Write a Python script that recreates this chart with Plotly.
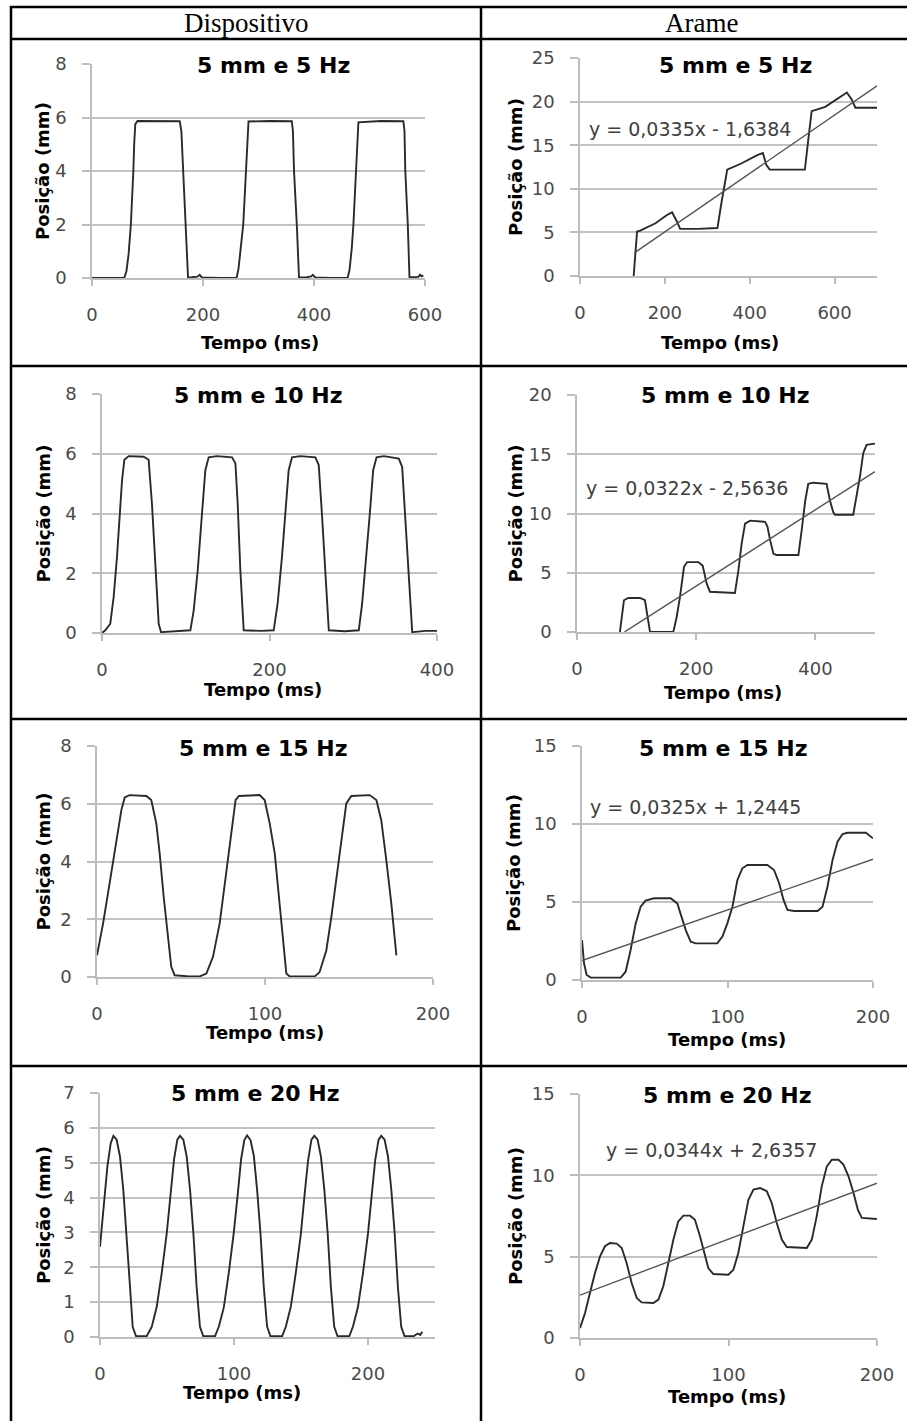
import plotly.graph_objects as go

# ---------------- data (time in ms, position in mm) ----------------
disp_5hz = [(0,0),(58,0),(62,0.25),(66,0.9),(70,2.0),(72.5,3.0),(74.5,4.0),(76,5.0),(78,5.75),(82,5.87),(120,5.87),
            (158,5.86),(161,5.5),(164,4.0),(169,2.0),(173,0.02),(180,0.03),(190,0.05),(194,0.12),(198,0.02),(230,0),
            (260.5,0),(264,0.35),(268,1.1),(272.5,2.0),(275,3.0),(277.5,4.0),(280,5.3),(282,5.85),(320,5.87),
            (360,5.86),(362,5.5),(364,4.0),(369,2.0),(373,0.02),(385,0.02),(395,0.06),(398,0.12),(402,0.02),(430,0),
            (460.5,0),(464,0.3),(468,1.1),(471,2.0),(473.5,3.0),(475.5,4.0),(478,5.2),(480,5.82),(520,5.87),
            (561,5.86),(563,5.5),(564.5,4.0),(569,2.0),(572,0.03),(580,0.03),(588,0.04),(591,0.12),(594,0.06),(597,0.1)]

arame_5hz = [(126.5,0),(130.5,2.6),(134.5,5.1),(142,5.2),(178,6.05),(205,7.0),(217,7.3),(229,6.2),(236,5.4),(277,5.4),
             (324,5.5),(332,8.0),(340,10.3),(347,12.2),(380,12.9),(419,13.9),(431,14.1),(439,12.75),(447,12.2),(490,12.2),
             (530,12.2),(538,15.6),(546,18.9),(578,19.4),(609,20.4),(629,21.05),(641,20.2),(649,19.3),(700,19.3)]

disp_10hz = [(0,0),(3.9,0.09),(9.9,0.31),(13.9,1.2),(17.9,2.55),(21.1,3.9),(23.9,5.1),(26.7,5.8),(31.9,5.92),(49.8,5.9),
             (55.7,5.8),(59.7,4.3),(63.7,2.1),(67.7,0.31),(70.5,0.03),(88,0.06),(105.5,0.09),(109.5,0.76),(114.3,2.1),
             (119.4,4.0),(123.4,5.45),(127.4,5.88),(137.4,5.92),(155.3,5.88),(159.3,5.68),(162,4.33),(165.2,2.1),
             (169.2,0.09),(190,0.07),(205,0.09),(209.7,0.98),(214.9,2.55),(218.9,4.0),(222.9,5.45),(226.9,5.88),
             (236.9,5.92),(254.8,5.88),(258.8,5.62),(262.8,3.89),(266.8,1.88),(270.8,0.09),(290,0.06),(306.6,0.09),
             (310.6,0.98),(315.8,2.55),(319.8,4.0),(323.8,5.45),(327.8,5.88),(336.5,5.92),(354.4,5.84),(358.4,5.56),
             (362.4,3.89),(366.4,1.88),(370.4,0.03),(386.4,0.07),(400,0.07)]

arame_10hz = [(72,0),(75,1.27),(78.8,2.68),(86,2.87),(105.7,2.87),(114,2.68),(118.6,1.27),(122.5,0),(161.6,0),(167,1.2),
              (172.8,2.96),(179.5,5.5),(185,5.9),(203.5,5.9),(210.8,5.6),(217.5,4.1),(223,3.4),(265,3.3),(270.8,5.2),
              (276.4,7.5),(282,9.15),(290.4,9.4),(315.6,9.3),(319.5,8.9),(324,7.75),(329.6,6.6),(335,6.5),(371.5,6.5),
              (377,8.6),(383,11.1),(388,12.5),(396.5,12.6),(418.8,12.5),(424.4,11.1),(430,10.1),(433,9.9),(463.5,9.9),
              (469,11.4),(474.7,13.1),(480.3,15.1),(485.9,15.8),(500,15.9)]

disp_15hz = [(0,0.75),(3.6,1.85),(7.5,3.24),(11.5,4.62),(14.5,5.78),(16.5,6.22),(19.4,6.3),(29.4,6.27),(32.3,6.13),
             (35.3,5.32),(37.3,4.28),(39.7,2.77),(42.3,1.39),(44.2,0.35),(46.2,0.06),(55,0.02),(61.1,0.02),(65.1,0.12),
             (69,0.69),(73,1.85),(76.6,3.47),(80,4.97),(82.5,6.13),(84.5,6.27),(96.8,6.3),(99.8,6.13),(102.8,5.32),
             (105.8,4.28),(108.3,2.77),(110.7,1.27),(112.7,0.12),(114.7,0.02),(129.6,0.02),(132.5,0.17),(136.5,0.92),
             (139.5,2.08),(142.5,3.47),(145.4,4.62),(148.4,6.01),(151.4,6.27),(162.3,6.3),(166.3,6.13),(169.2,5.43),
             (172.2,4.05),(175.2,2.54),(178.2,0.75)]

arame_15hz = [(0,2.56),(1.4,1.07),(3.2,0.32),(6,0.15),(26.6,0.15),(30,0.53),(33.4,1.92),(36.9,3.63),(40.3,4.7),
              (43.7,5.09),(49.5,5.24),(60.9,5.24),(65.5,4.91),(67.8,4.27),(71.3,3.2),(74.7,2.46),(78.2,2.35),(93,2.35),
              (96.5,2.78),(99.9,3.63),(103.4,4.7),(106.8,6.41),(110.2,7.16),(113.7,7.37),(127.4,7.37),(132,7.05),
              (135.5,6.2),(138.5,5.13),(141.2,4.49),(145.8,4.42),(161.9,4.42),(165.3,4.7),(168.7,5.98),(172.2,7.69),
              (175.6,8.87),(179.1,9.36),(182.5,9.44),(195.1,9.44),(200,9.08)]

disp_20hz = [(0,2.59),(3,3.93),(5.5,4.89),(8,5.56),(10,5.77),(12.4,5.66),(14.9,5.18),(17.4,4.22),(19.9,2.97),(22.4,1.44),
             (24.4,0.29),(26.9,0.02),(34.8,0.02),(38.6,0.29),(42.3,0.86),(46,1.82),(49.8,2.97),(52.7,4.12),(55.2,5.08),
             (57.7,5.66),(59.7,5.77),(62.2,5.66),(64.7,5.18),(67.2,4.22),(69.7,2.97),(72.1,1.44),(74.6,0.29),(77.1,0.02),
             (85.8,0.02),(88.7,0.3),(92.4,0.85),(96.1,1.84),(99.8,2.98),(102.8,4.1),(105.3,5.1),(107.7,5.65),(109.8,5.78),
             (112.3,5.65),(114.8,5.2),(117.3,4.2),(119.8,2.95),(122.2,1.45),(124.7,0.3),(127.2,0.02),(135.9,0.02),
             (138.7,0.3),(142.4,0.87),(146.1,1.83),(149.9,2.96),(152.8,4.13),(155.3,5.07),(157.8,5.66),(159.9,5.77),
             (162.4,5.66),(164.9,5.17),(167.4,4.23),(169.9,2.98),(172.3,1.43),(174.8,0.29),(177.3,0.02),(186,0.02),
             (188.8,0.3),(192.5,0.86),(196.2,1.82),(200,2.97),(202.9,4.12),(205.4,5.08),(207.9,5.66),(209.9,5.77),
             (212.4,5.66),(214.9,5.18),(217.4,4.22),(219.9,2.97),(222.3,1.44),(224.8,0.29),(227.3,0.02),(234,0.02),
             (237,0.1),(239,0.06),(240.5,0.15)]

arame_20hz = [(0,0.61),(3.4,1.54),(6.7,2.77),(10.1,4.0),(13.5,5.02),(16.8,5.64),(20.2,5.84),(24.7,5.8),(28.1,5.53),
              (31.4,4.61),(34.8,3.38),(38.2,2.46),(41.5,2.19),(49.4,2.15),(52.8,2.36),(56.1,3.18),(59.5,4.61),(62.9,6.05),
              (66.2,7.17),(69.6,7.52),(74.1,7.52),(77.4,7.27),(80.8,6.25),(83.5,5.23),(86.4,4.3),(89.8,3.93),(99.9,3.89),
              (103.3,4.2),(106.6,5.23),(110,6.86),(113.4,8.5),(116.8,9.12),(121.3,9.22),(125.8,9.02),(129.1,8.3),
              (132.5,7.07),(135.9,6.05),(139.2,5.59),(152.7,5.53),(156.1,6.05),(159.4,7.48),(162.8,9.32),(166.2,10.55),
              (169.6,10.96),(174.1,10.96),(177.4,10.66),(180.8,9.94),(184.2,8.91),(187.1,7.89),(189.8,7.38),(199.9,7.32)]

# linear trend lines (slope, intercept, x start, x end) as printed on the charts
trend_5hz = (0.0335, -1.6384, 128, 700)
trend_10hz = (0.0322, -2.5636, 80, 500)
trend_15hz = (0.0325, 1.2445, 0, 200)
trend_20hz = (0.0344, 2.6357, 0, 200)

titles = ["5 mm e 5 Hz", "5 mm e 10 Hz", "5 mm e 15 Hz", "5 mm e 20 Hz"]
equations = ["y = 0,0335x - 1,6384", "y = 0,0322x - 2,5636", "y = 0,0325x + 1,2445", "y = 0,0344x + 2,6357"]
col_headers = ["Dispositivo", "Arame"]
x_label = "Tempo (ms)"
y_label = "Posição (mm)"

# ---------------- layout helpers ----------------
W, H = 907, 1421
def fx(x):
    return x / W
def fy(y):
    return 1 - y / H

# panel geometry in pixels: plot box (x0, y0, x1, y1), title pos, x-title pos, y-title x, eq pos
panels = [
    dict(data=disp_5hz, trend=None, xr=[0, 600], xd=200, yr=[0, 8], yd=2, box=(92, 64, 425, 278),
         title=(273, 65), xt=(260, 342), yt=42, eq=None, ti=0),
    dict(data=arame_5hz, trend=trend_5hz, xr=[0, 700], xd=200, yr=[0, 25], yd=5, box=(580, 58, 877, 276),
         title=(735, 65), xt=(720, 342), yt=515, eq=(690, 129), ti=0),
    dict(data=disp_10hz, trend=None, xr=[0, 400], xd=200, yr=[0, 8], yd=2, box=(102, 394, 437, 633),
         title=(258, 395), xt=(263, 689), yt=43, eq=None, ti=1),
    dict(data=arame_10hz, trend=trend_10hz, xr=[0, 500], xd=200, yr=[0, 20], yd=5, box=(577, 395, 875, 632),
         title=(725, 395), xt=(723, 692), yt=515, eq=(687, 488), ti=1),
    dict(data=disp_15hz, trend=None, xr=[0, 200], xd=100, yr=[0, 8], yd=2, box=(97, 746, 433, 977),
         title=(263, 748), xt=(265, 1032), yt=43, eq=None, ti=2),
    dict(data=arame_15hz, trend=trend_15hz, xr=[0, 200], xd=100, yr=[0, 15], yd=5, box=(582, 746, 873, 980),
         title=(723, 748), xt=(727, 1039), yt=513, eq=(695, 807), ti=2),
    dict(data=disp_20hz, trend=None, xr=[0, 250], xd=100, yr=[0, 7], yd=1, box=(100, 1093, 435, 1337),
         title=(255, 1093), xt=(242, 1392), yt=43, eq=None, ti=3),
    dict(data=arame_20hz, trend=trend_20hz, xr=[0, 200], xd=100, yr=[0, 15], yd=5, box=(580, 1094, 877, 1338),
         title=(727, 1095), xt=(727, 1396), yt=515, eq=(711, 1150), ti=3),
]

GRID = "#c3c3c3"
AXIS = "#bdbdbd"
TICKFONT = dict(family="DejaVu Sans", size=18, color="#4a4a4a")
DATA_COLOR = "#2a2a2a"
TREND_COLOR = "#555555"

fig = go.Figure()
layout = dict(width=W, height=H, margin=dict(l=0, r=0, t=0, b=0, autoexpand=False), showlegend=False,
              paper_bgcolor="white", plot_bgcolor="white")
annotations = []
shapes = []

for i, p in enumerate(panels, start=1):
    xa = "x" if i == 1 else f"x{i}"
    ya = "y" if i == 1 else f"y{i}"
    xs = [pt[0] for pt in p["data"]]
    ys = [pt[1] for pt in p["data"]]
    fig.add_trace(go.Scatter(x=xs, y=ys, mode="lines", xaxis=xa, yaxis=ya,
                             line=dict(color=DATA_COLOR, width=1.9), hoverinfo="skip"))
    if p["trend"] is not None:
        m, b, t0, t1 = p["trend"]
        fig.add_trace(go.Scatter(x=[t0, t1], y=[m * t0 + b, m * t1 + b], mode="lines", xaxis=xa, yaxis=ya,
                                 line=dict(color=TREND_COLOR, width=1.4), hoverinfo="skip"))
    x0, y0, x1, y1 = p["box"]
    layout[f"xaxis{i}"] = dict(domain=[fx(x0), fx(x1)], range=p["xr"], dtick=p["xd"], tick0=0, anchor=ya,
                               automargin=False,
                               showgrid=False, zeroline=False, showline=True, linecolor=AXIS, linewidth=1.5,
                               ticks="outside", ticklen=6, tickwidth=1.5, tickcolor=AXIS,
                               tickfont=TICKFONT, ticklabelstandoff=14, fixedrange=True)
    layout[f"yaxis{i}"] = dict(domain=[fy(y1), fy(y0)], range=p["yr"], dtick=p["yd"], tick0=0, anchor=xa,
                               automargin=False,
                               showgrid=True, gridcolor=GRID, gridwidth=1.6, zeroline=False,
                               showline=True, linecolor=AXIS, linewidth=1.5,
                               ticks="outside", ticklen=8, tickwidth=1.5, tickcolor=AXIS,
                               tickfont=TICKFONT, ticklabelstandoff=12, fixedrange=True)
    # chart title (white box over top gridline)
    annotations.append(dict(x=fx(p["title"][0]), y=fy(p["title"][1]), xref="paper", yref="paper",
                            text=f"<b>{titles[p['ti']]}</b>", showarrow=False, xanchor="center", yanchor="middle",
                            font=dict(family="DejaVu Sans", size=22, color="black"),
                            bgcolor="white", borderpad=3))
    # axis titles
    annotations.append(dict(x=fx(p["xt"][0]), y=fy(p["xt"][1]), xref="paper", yref="paper",
                            text=f"<b>{x_label}</b>", showarrow=False, xanchor="center", yanchor="middle",
                            font=dict(family="DejaVu Sans", size=18, color="black")))
    annotations.append(dict(x=fx(p["yt"]), y=fy((y0 + y1) / 2), xref="paper", yref="paper",
                            text=f"<b>{y_label}</b>", showarrow=False, xanchor="center", yanchor="middle",
                            textangle=-90, font=dict(family="DejaVu Sans", size=18, color="black")))
    if p["eq"] is not None:
        annotations.append(dict(x=fx(p["eq"][0]), y=fy(p["eq"][1]), xref="paper", yref="paper",
                                text=equations[p["ti"]], showarrow=False, xanchor="center", yanchor="middle",
                                font=dict(family="DejaVu Sans", size=19, color="#404040")))

# column headers
annotations.append(dict(x=fx(246), y=fy(23), xref="paper", yref="paper", text=col_headers[0], showarrow=False,
                        xanchor="center", yanchor="middle",
                        font=dict(family="Liberation Serif", size=27, color="black")))
annotations.append(dict(x=fx(701), y=fy(23), xref="paper", yref="paper", text=col_headers[1], showarrow=False,
                        xanchor="center", yanchor="middle",
                        font=dict(family="Liberation Serif", size=27, color="black")))

# table borders
border = dict(color="black", width=2.5)
for yy in [7, 39, 366, 719, 1066]:
    shapes.append(dict(type="line", xref="paper", yref="paper", x0=fx(10), x1=fx(W + 5), y0=fy(yy), y1=fy(yy),
                       line=border))
for xx in [11, 481]:
    shapes.append(dict(type="line", xref="paper", yref="paper", x0=fx(xx), x1=fx(xx), y0=fy(6), y1=fy(H + 5),
                       line=border))

layout["annotations"] = annotations
layout["shapes"] = shapes
fig.update_layout(**layout)
fig.write_html("out.html")
